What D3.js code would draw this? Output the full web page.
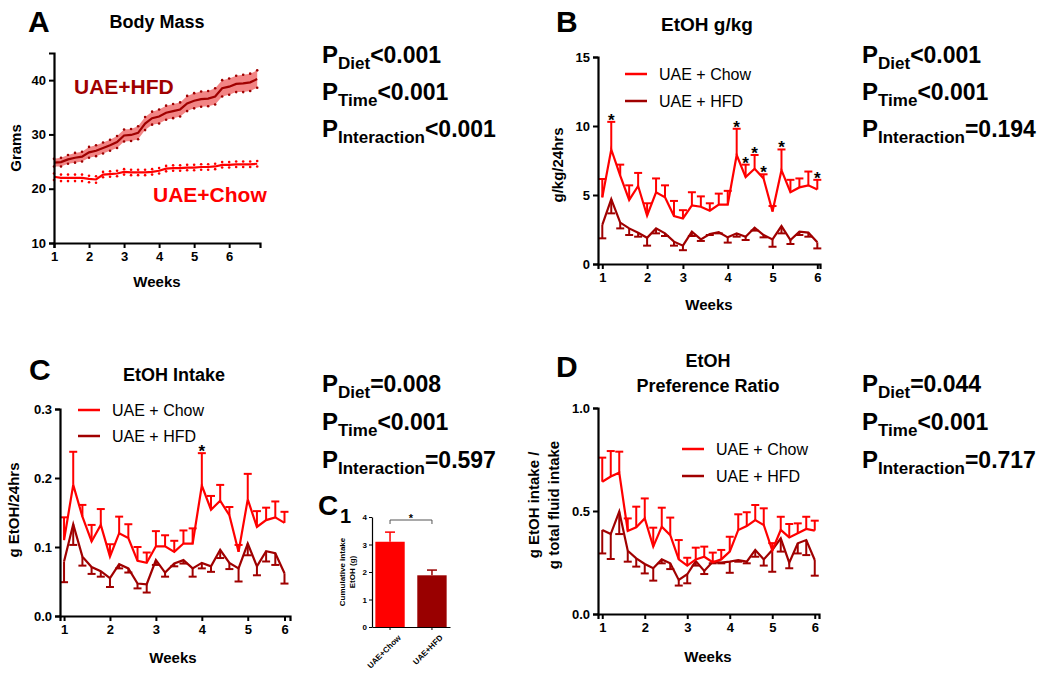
<!DOCTYPE html>
<html>
<head>
<meta charset="utf-8">
<script src="https://cdn.jsdelivr.net/npm/d3@7"></script>
<style>
  body { margin: 0; background: #fff; }
  svg { font-family: "Liberation Sans", Arial, sans-serif; }
</style>
</head>
<body>
<div id="chart"></div>
<script>
// ---- data ----
const CHOW = "#ff0000";
const HFD = "#a00000";

// A: body mass, 5 readings per week
const massChow = [22.2,22.0,22.0,22.0,22.0,21.8,21.7,22.6,22.7,22.8,23.1,23.0,23.0,23.0,23.1,23.3,23.7,23.8,23.8,23.9,23.9,24.0,24.0,24.1,24.4,24.4,24.5,24.5,24.5,24.6];
const massChowSem = [0.6,0.6,0.6,0.6,0.6,0.6,0.6,0.5,0.5,0.5,0.5,0.5,0.5,0.5,0.5,0.5,0.5,0.5,0.5,0.5,0.5,0.5,0.5,0.5,0.5,0.5,0.5,0.5,0.5,0.5];
const massHfd = [24.8,24.9,25.4,25.7,25.9,26.7,27.0,27.5,28.0,28.6,29.8,29.9,30.3,32.0,33.0,33.3,34.0,34.3,34.6,35.7,36.2,36.5,36.6,37.0,38.5,38.8,39.3,39.4,39.6,40.2];
const massHfdSem = [0.7,0.8,0.8,0.9,0.9,1.0,1.0,1.0,1.0,1.1,1.1,1.1,1.2,1.2,1.2,1.3,1.3,1.3,1.3,1.4,1.4,1.4,1.4,1.5,1.5,1.5,1.5,1.6,1.6,1.6];

// B: EtOH g/kg per session
const gkgChow = [4.83,8.3,6.4,4.64,5.65,3.5,5.2,4.83,3.48,3.3,4.25,4.15,3.86,4.3,4.3,7.9,6.3,6.9,6.2,3.8,6.8,5.2,5.55,5.7,5.4];
const gkgChowSem = [1.33,2.0,0.8,1.06,0.95,0.9,1.0,0.87,1.09,0.6,0.95,0.75,0.54,0.8,1.0,1.9,0.9,1.0,0.3,0.4,1.5,0.9,0.65,1.0,0.7];
const gkgHfd = [2.83,4.7,3.0,2.58,2.27,1.9,2.58,2.22,1.62,1.33,2.34,1.78,2.17,2.3,1.93,2.22,1.98,2.63,2.1,1.78,2.75,1.74,2.34,2.27,1.57];
const gkgHfdSem = [0.97,1.03,0.42,0.48,0.29,0.57,0.36,0.19,0.29,0.33,0.31,0.11,0.07,0.08,0.38,0.24,0.24,0.21,0.17,0.53,0.53,0.29,0.24,0.29,0.44];
const gkgStars = [1,15,16,17,18,20,24];

// C: EtOH intake per session
const intakeChow = [0.110,0.190,0.144,0.108,0.132,0.086,0.120,0.113,0.080,0.077,0.101,0.101,0.093,0.105,0.105,0.189,0.154,0.167,0.146,0.093,0.169,0.129,0.139,0.143,0.135];
const intakeChowSem = [0.033,0.048,0.017,0.024,0.023,0.018,0.024,0.020,0.020,0.015,0.022,0.016,0.016,0.019,0.022,0.047,0.020,0.023,0.012,0.010,0.037,0.023,0.018,0.023,0.016];
const intakeHfd = [0.079,0.133,0.086,0.071,0.065,0.055,0.075,0.069,0.047,0.046,0.081,0.063,0.076,0.081,0.069,0.077,0.072,0.096,0.077,0.069,0.105,0.072,0.094,0.091,0.062];
const intakeHfdSem = [0.030,0.030,0.013,0.010,0.008,0.013,0.006,0.006,0.007,0.012,0.007,0.006,0.004,0.005,0.012,0.008,0.008,0.012,0.009,0.019,0.017,0.013,0.015,0.017,0.015];
const intakeStars = [15];

// D: preference ratio per session
const prefChow = [0.642,0.667,0.686,0.403,0.421,0.464,0.327,0.424,0.383,0.265,0.235,0.265,0.278,0.251,0.265,0.303,0.408,0.427,0.456,0.432,0.309,0.408,0.372,0.392,0.413,0.405];
const prefChowSem = [0.117,0.124,0.102,0.061,0.100,0.097,0.092,0.092,0.085,0.094,0.038,0.057,0.049,0.047,0.046,0.072,0.076,0.067,0.073,0.081,0.035,0.064,0.065,0.048,0.059,0.048];
const prefHfd = [0.408,0.388,0.497,0.307,0.270,0.243,0.222,0.265,0.246,0.165,0.193,0.257,0.209,0.254,0.249,0.254,0.262,0.254,0.311,0.265,0.311,0.367,0.249,0.343,0.359,0.262];
const prefHfdSem = [0.114,0.121,0.109,0.053,0.040,0.046,0.060,0.019,0.028,0.027,0.044,0.022,0.015,0.008,0.003,0.054,0.008,0.008,0.033,0.030,0.106,0.064,0.027,0.049,0.073,0.076];

// C1: cumulative intake
const cumGroups = ["UAE+Chow", "UAE+HFD"];
const cumMeans = [3.1, 1.88];
const cumSem = [0.35, 0.19];

const weekLabels = ["1","2","3","4","5","6"];

// ---- drawing ----
const W = 1050, H = 676;
const svg = d3.select("#chart").append("svg").attr("width", W).attr("height", H);

function txt(x, y, s, size, opts = {}) {
  return svg.append("text").attr("x", x).attr("y", y)
    .attr("font-size", size)
    .attr("font-weight", opts.weight || "bold")
    .attr("text-anchor", opts.anchor || "start")
    .attr("fill", opts.fill || "#000")
    .text(s);
}

function vtxt(x, y, s, size) {
  svg.append("text").attr("transform", `translate(${x},${y}) rotate(-90)`)
    .attr("font-size", size).attr("font-weight", "bold")
    .attr("text-anchor", "middle").text(s);
}

function pstats(x, y0, gap, vals) {
  const subs = ["Diet", "Time", "Interaction"];
  subs.forEach((s, i) => {
    const t = svg.append("text").attr("x", x).attr("y", y0 + i * gap)
      .attr("font-weight", "bold").attr("font-size", 24);
    t.append("tspan").text("P");
    t.append("tspan").attr("font-size", 17).attr("dy", 6).text(s);
    t.append("tspan").attr("font-size", 23).attr("dy", -6).text(vals[i]);
  });
}

function styleAxis(g) {
  g.selectAll(".domain").attr("stroke-width", 2.2);
  g.selectAll(".tick line").attr("stroke-width", 2);
  g.selectAll(".tick text").attr("font-size", 13).attr("font-weight", "bold")
    .attr("font-family", "Liberation Sans, Arial, sans-serif");
}

function axes(x, y, yTicks, yFmt, xTicks) {
  const [x0] = x.range();
  const [y0] = y.range();
  const gx = svg.append("g").attr("transform", `translate(0,${y0})`)
    .call(d3.axisBottom(x).tickValues(xTicks).tickFormat((d, i) => weekLabels[i]).tickSizeOuter(0).tickSize(5).tickPadding(4));
  styleAxis(gx);
  const gy = svg.append("g").attr("transform", `translate(${x0},0)`)
    .call(d3.axisLeft(y).tickValues(yTicks).tickFormat(yFmt).tickSizeOuter(0).tickSize(5).tickPadding(3));
  styleAxis(gy);
}

function errorBars(x, y, mean, sem, dir, color) {
  const g = svg.append("g").attr("stroke", color).attr("stroke-width", 2).attr("fill", "none");
  mean.forEach((m, i) => {
    const e = m + dir * sem[i];
    g.append("line").attr("x1", x(i)).attr("x2", x(i)).attr("y1", y(m)).attr("y2", y(e));
    g.append("line").attr("x1", x(i) - 4).attr("x2", x(i) + 4).attr("y1", y(e)).attr("y2", y(e));
  });
}

function seriesLine(x, y, mean, color) {
  svg.append("path").datum(mean)
    .attr("d", d3.line().x((d, i) => x(i)).y(d => y(d)))
    .attr("fill", "none").attr("stroke", color).attr("stroke-width", 2.2)
    .attr("stroke-linejoin", "miter");
}

function legend(lx, ly, gap) {
  [[CHOW, "UAE + Chow"], [HFD, "UAE + HFD"]].forEach(([c, s], i) => {
    svg.append("line").attr("x1", lx).attr("x2", lx + 22).attr("y1", ly + i * gap).attr("y2", ly + i * gap)
      .attr("stroke", c).attr("stroke-width", 2.5);
    txt(lx + 34, ly + i * gap + 6, s, 16, { weight: "normal" });
  });
}

function sessionPanel(p) {
  const x = d3.scaleLinear().domain(p.xDom).range(p.xRange);
  const y = d3.scaleLinear().domain(p.yDom).range(p.yRange);
  seriesLine(x, y, p.hfd, HFD);
  errorBars(x, y, p.hfd, p.hfdSem, -1, HFD);
  seriesLine(x, y, p.chow, CHOW);
  errorBars(x, y, p.chow, p.chowSem, 1, CHOW);
  (p.stars || []).forEach(i => {
    txt(x(i), y(p.chow[i] + p.chowSem[i]) + 4, "*", 17, { anchor: "middle" });
  });
  axes(x, y, p.yTicks, p.yFmt, p.xTicks);
}

// ---- Panel A ----
txt(28, 32, "A", 30);
txt(157, 28, "Body Mass", 18, { anchor: "middle" });
{
  const x = d3.scaleLinear().domain([0, 29.4]).range([54, 260]);
  const y = d3.scaleLinear().domain([10, 45]).range([243, 53]);
  svg.append("path").datum(massHfd)
    .attr("d", d3.area().x((d, i) => x(i)).y0((d, i) => y(d - massHfdSem[i])).y1((d, i) => y(d + massHfdSem[i])))
    .attr("fill", "#f07070").attr("opacity", 0.85);
  seriesLine(x, y, massHfd, HFD);
  seriesLine(x, y, massChow, CHOW);
  [[massHfd, massHfdSem, HFD], [massChow, massChowSem, CHOW]].forEach(([m, s, c]) => {
    [1, -1].forEach(dir => {
      svg.append("g").selectAll("circle").data(m).join("circle")
        .attr("cx", (d, i) => x(i)).attr("cy", (d, i) => y(d + dir * s[i]))
        .attr("r", 1.3).attr("fill", c);
    });
  });
  axes(x, y, [10, 20, 30, 40], d3.format("d"), [0, 5, 10, 15, 20, 25]);
  txt(74, 94, "UAE+HFD", 21, { fill: HFD });
  txt(153, 202, "UAE+Chow", 21, { fill: CHOW });
  vtxt(21, 148, "Grams", 15);
  txt(157, 287, "Weeks", 15, { anchor: "middle" });
}
pstats(322, 63, 37, ["<0.001", "<0.001", "<0.001"]);

// ---- Panel B ----
txt(556, 32, "B", 30);
txt(707, 31, "EtOH g/kg", 19, { anchor: "middle" });
sessionPanel({
  xDom: [-0.48, 24.3], xRange: [598, 820], yDom: [0, 15], yRange: [264, 57],
  chow: gkgChow, chowSem: gkgChowSem, hfd: gkgHfd, hfdSem: gkgHfdSem, stars: gkgStars,
  yTicks: [0, 5, 10, 15], yFmt: d3.format("d"), xTicks: [0, 5, 9, 14, 19, 24]
});
legend(625, 74, 27);
vtxt(563, 165, "g/kg/24hrs", 15);
txt(709, 310, "Weeks", 15, { anchor: "middle" });
pstats(862, 63, 37, ["<0.001", "<0.001", "=0.194"]);

// ---- Panel C ----
txt(29, 380, "C", 30);
txt(174, 381, "EtOH Intake", 18, { anchor: "middle" });
sessionPanel({
  xDom: [-0.44, 24.6], xRange: [60, 290], yDom: [0, 0.3], yRange: [616, 409],
  chow: intakeChow, chowSem: intakeChowSem, hfd: intakeHfd, hfdSem: intakeHfdSem, stars: intakeStars,
  yTicks: [0, 0.1, 0.2, 0.3], yFmt: d3.format(".1f"), xTicks: [0, 5, 10, 15, 20, 24]
});
legend(78, 410, 26);
vtxt(19, 510, "g EtOH/24hrs", 15);
txt(173, 663, "Weeks", 15, { anchor: "middle" });
pstats(322, 392, 38, ["=0.008", "<0.001", "=0.597"]);

// ---- Panel C1 ----
txt(318, 515, "C", 28);
txt(340, 523, "1", 20);
{
  const x = d3.scaleBand().domain(cumGroups).range([372, 450]).paddingInner(0.3).paddingOuter(0.08);
  const y = d3.scaleLinear().domain([0, 4]).range([627, 517]);
  const colors = [CHOW, "#990000"];
  svg.append("g").selectAll("rect").data(cumMeans).join("rect")
    .attr("x", (d, i) => x(cumGroups[i])).attr("width", x.bandwidth())
    .attr("y", d => y(d)).attr("height", d => y(0) - y(d))
    .attr("fill", (d, i) => colors[i]);
  cumMeans.forEach((m, i) => {
    const cx = x(cumGroups[i]) + x.bandwidth() / 2;
    svg.append("line").attr("x1", cx).attr("x2", cx).attr("y1", y(m)).attr("y2", y(m + cumSem[i]))
      .attr("stroke", colors[i]).attr("stroke-width", 1.5);
    svg.append("line").attr("x1", cx - 5).attr("x2", cx + 5).attr("y1", y(m + cumSem[i])).attr("y2", y(m + cumSem[i]))
      .attr("stroke", colors[i]).attr("stroke-width", 1.5);
  });
  const gy = svg.append("g").attr("transform", "translate(372,0)")
    .call(d3.axisLeft(y).ticks(4).tickFormat(d3.format("d")).tickSize(3).tickSizeOuter(0).tickPadding(2));
  gy.selectAll(".domain").attr("stroke-width", 1.2);
  gy.selectAll(".tick text").attr("font-size", 8).attr("font-weight", "bold");
  const gx = svg.append("g").attr("transform", "translate(0,627)")
    .call(d3.axisBottom(x).tickSize(3).tickSizeOuter(0));
  gx.selectAll(".domain").attr("stroke-width", 1.2);
  gx.selectAll(".tick text").attr("font-size", 8).attr("font-weight", "bold")
    .attr("text-anchor", "end").attr("transform", "translate(3,3) rotate(-45)");
  const c0 = x(cumGroups[0]) + x.bandwidth() / 2, c1 = x(cumGroups[1]) + x.bandwidth() / 2;
  svg.append("path").attr("d", `M${c0},524V520H${c1}V524`).attr("fill", "none").attr("stroke", "#555").attr("stroke-width", 1);
  txt((c0 + c1) / 2, 522, "*", 11, { anchor: "middle" });
  svg.append("text").attr("transform", "translate(345,572) rotate(-90)")
    .attr("font-size", 8).attr("font-weight", "bold").attr("text-anchor", "middle")
    .selectAll("tspan").data(["Cumulative intake", "EtOH (g)"]).join("tspan")
    .attr("x", 0).attr("dy", (d, i) => i ? 10 : 0).text(d => d);
}

// ---- Panel D ----
txt(556, 377, "D", 30);
txt(708, 367, "EtOH", 18, { anchor: "middle" });
txt(708, 392, "Preference Ratio", 18, { anchor: "middle" });
sessionPanel({
  xDom: [-0.5, 25.5], xRange: [598, 819], yDom: [0, 1], yRange: [614, 408],
  chow: prefChow, chowSem: prefChowSem, hfd: prefHfd, hfdSem: prefHfdSem,
  yTicks: [0, 0.5, 1], yFmt: d3.format(".1f"), xTicks: [0, 5, 10, 15, 20, 25]
});
legend(682, 449, 27);
vtxt(539, 505, "g EtOH intake /", 15);
vtxt(559, 505, "g total fluid intake", 15);
txt(708, 662, "Weeks", 15, { anchor: "middle" });
pstats(862, 392, 38, ["=0.044", "<0.001", "=0.717"]);
</script>
</body>
</html>
